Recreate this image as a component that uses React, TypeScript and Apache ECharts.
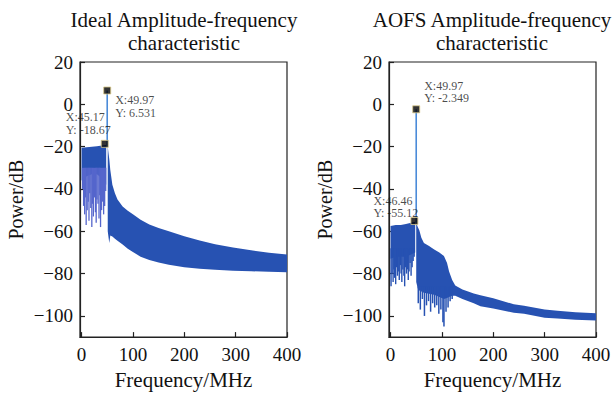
import React, { useEffect, useRef } from "react";
import * as echarts from "echarts";

const FONT = '"Liberation Serif", "Times New Roman", serif';

// ---------- Titles / axes ----------
const titles = ["Ideal Amplitude-frequency\ncharacteristic", "AOFS Amplitude-frequency\ncharacteristic"];
const xTicks = [0, 100, 200, 300, 400];
const yTicks = [-100, -80, -60, -40, -20, 0, 20];

// ---------- Left (Ideal) ----------
const leftNoiseFreq = [0, 10, 20, 30, 40, 48];
const leftNoiseUpper = [-20.5, -20.3, -20, -19.8, -19.5, -19.2];
const leftNoiseLower = [-36, -34, -33, -33, -35, -38];
const leftSpikeX = [2, 4, 6, 7.5, 9, 11, 13, 14.5, 16, 18, 20, 21.5, 23, 25, 27, 28.5, 30, 32, 34, 35.5, 37, 39, 41, 43, 45, 47];
const leftSpikeLow = [-40, -48, -52, -44, -57, -50, -46, -55, -42, -49, -58, -47, -53, -44, -51, -56, -45, -47, -54, -43, -58, -50, -46, -52, -48, -41];
const leftDecayFreq = [51, 54, 56, 60, 65, 70, 80, 90, 100, 115, 132, 150, 170, 200, 230, 260, 295, 330, 365, 400];
const leftDecayUpper = [-20, -26, -31, -38, -42, -45, -48.3, -50.3, -52, -54.5, -56.8, -58.5, -60, -62.3, -64.3, -66.1, -67.7, -69, -70.1, -71];
const leftDecayLower = [-60, -65.5, -62, -62.5, -63.5, -64.5, -66.3, -68.2, -69.8, -72, -73.6, -74.8, -75.8, -77, -77.7, -78.2, -78.6, -78.9, -79.1, -79.3];
const leftPeak = [49.97, -20, 6.531];
const leftMarkers = [
  [45.17, -18.67],
  [49.97, 6.531],
];

// ---------- Right (AOFS) ----------
const rightNoiseFreq = [0, 10, 20, 30, 40, 48];
const rightNoiseUpper = [-57.5, -57, -57, -56.5, -56, -55.5];
const rightNoiseLower = [-73, -72, -72, -72, -71, -70];
const rightSpikeX = [1, 3, 5, 6.5, 8, 10, 12, 13.5, 15, 17, 19, 20.5, 22, 24, 26, 27.5, 29, 31, 33, 34.5, 36, 38, 40, 42, 44, 46];
const rightSpikeLow = [-86, -80, -84, -78, -82, -85, -77, -81, -79, -83, -76, -80, -84, -78, -81, -86, -77, -80, -78, -83, -79, -75, -81, -77, -74, -72];
const rightDecayFreq = [50, 53, 56, 60, 65, 75, 85, 95, 104, 110, 114, 120, 126, 140, 162, 175, 200, 240, 260, 300, 325, 360, 400];
const rightDecayUpper = [-56, -58, -59.5, -63, -65.5, -67, -68.6, -70, -71.7, -75, -79, -83, -85.6, -87.5, -89.4, -90.2, -91.7, -94.5, -95.2, -97, -97.5, -98.2, -98.7];
const rightDecayLower = [-84, -87, -88, -88.5, -89, -89.5, -90, -91, -92, -91.5, -91, -90.5, -90.5, -92, -94, -95.4, -96.5, -98.5, -99, -100.8, -101.2, -101.8, -102.2];
const rightSpike2X = [54, 58, 62, 66, 70, 74, 78, 82, 86, 90, 94, 98, 102, 104, 108, 112, 116, 120];
const rightSpike2Low = [-94, -97, -92, -100, -95, -93, -98, -94, -96, -95, -99, -97, -103, -105, -98, -96, -93, -92];
const rightPeak = [49.97, -56, -2.349];
const rightMarkers = [
  [46.46, -55.12],
  [49.97, -2.349],
];

const BAND = "#2752b2";

function band(freq: number[], upper: number[], lower: number[], idx: number) {
  return {
    type: "custom",
    xAxisIndex: idx,
    yAxisIndex: idx,
    coordinateSystem: "cartesian2d",
    silent: true,
    z: 2,
    data: [[freq[0], upper[0]]],
    renderItem: (_p: any, api: any) => {
      const pts: number[][] = [];
      for (let i = 0; i < freq.length; i++) pts.push(api.coord([freq[i], upper[i]]));
      for (let i = freq.length - 1; i >= 0; i--) pts.push(api.coord([freq[i], lower[i]]));
      return { type: "polygon", shape: { points: pts }, style: { fill: BAND } };
    },
  };
}

function spikes(xs: number[], lows: number[], top: number, idx: number, color: string, w: number) {
  return {
    type: "custom",
    xAxisIndex: idx,
    yAxisIndex: idx,
    coordinateSystem: "cartesian2d",
    silent: true,
    z: 3,
    data: xs.map((x, i) => [x, lows[i], top]),
    renderItem: (_p: any, api: any) => {
      const a = api.coord([api.value(0), api.value(2)]);
      const b = api.coord([api.value(0), api.value(1)]);
      return {
        type: "line",
        shape: { x1: a[0], y1: a[1], x2: b[0], y2: b[1] },
        style: { stroke: color, lineWidth: w },
      };
    },
  };
}

function peak(p: number[], idx: number) {
  return {
    type: "line",
    xAxisIndex: idx,
    yAxisIndex: idx,
    symbol: "none",
    silent: true,
    z: 4,
    data: [
      [p[0], p[1]],
      [p[0], p[2]],
    ],
    lineStyle: { color: "#4b8bd9", width: 1.6 },
  };
}

function markers(pts: number[][], offsets: number[][], lineHeights: number[], idx: number) {
  return {
    type: "scatter",
    xAxisIndex: idx,
    yAxisIndex: idx,
    symbol: "rect",
    symbolSize: 7,
    silent: true,
    z: 6,
    itemStyle: { color: "#000", borderColor: "#d9c98a", borderWidth: 1 },
    data: pts.map((p, i) => ({
      value: p,
      label: {
        show: true,
        position: offsets[i],
        align: "left",
        verticalAlign: "top",
        formatter: `X:${p[0]}\nY: ${p[1]}`,
        fontFamily: FONT,
        fontSize: 12,
        lineHeight: lineHeights[i],
        color: "#1a1a1a",
      },
    })),
  };
}

const minusFmt = (v: number) => (v < 0 ? "\u2212" + Math.abs(v) : String(v));

function xAxis(idx: number) {
  return {
    type: "value",
    gridIndex: idx,
    min: -3,
    max: 400,
    name: "Frequency/MHz",
    nameLocation: "middle",
    nameGap: 28,
    nameTextStyle: { fontFamily: FONT, fontSize: 21, color: "#111" },
    axisLine: { show: true, onZero: false, lineStyle: { color: "#222", width: 1.2 } },
    axisTick: { show: true, inside: true, length: 5, customValues: xTicks, lineStyle: { color: "#222", width: 1.2 } },
    axisLabel: { customValues: xTicks, margin: 8, fontFamily: FONT, fontSize: 19, color: "#111" },
    splitLine: { show: false },
  };
}

function yAxis(idx: number) {
  return {
    type: "value",
    gridIndex: idx,
    min: -110,
    max: 20,
    name: "Power/dB",
    nameLocation: "middle",
    nameGap: 54,
    nameTextStyle: { fontFamily: FONT, fontSize: 20, color: "#111" },
    axisLine: { show: true, onZero: false, lineStyle: { color: "#222", width: 1.2 } },
    axisTick: { show: true, inside: true, length: 5, customValues: yTicks, lineStyle: { color: "#222", width: 1.2 } },
    axisLabel: { customValues: yTicks, margin: 7, fontFamily: FONT, fontSize: 19, color: "#111", formatter: minusFmt },
    splitLine: { show: false },
  };
}

function titleText(text: string, x: number) {
  return {
    type: "text",
    x,
    y: 8,
    silent: true,
    style: {
      text,
      fontFamily: FONT,
      fontSize: 21,
      lineHeight: 23,
      fill: "#111",
      textAlign: "center",
      textVerticalAlign: "top",
    },
  };
}

export default function App() {
  const ref = useRef<HTMLDivElement>(null);
  useEffect(() => {
    if (!ref.current) return;
    const chart = echarts.init(ref.current, null, { renderer: "svg" });
    chart.setOption({
      animation: false,
      backgroundColor: "#fff",
      graphic: [titleText(titles[0], 184), titleText(titles[1], 492)],
      grid: [
        { left: 80, top: 62, width: 207, height: 281, show: true, borderColor: "#222", borderWidth: 1.2, backgroundColor: "transparent" },
        { left: 389, top: 62, width: 207, height: 281, show: true, borderColor: "#222", borderWidth: 1.2, backgroundColor: "transparent" },
      ],
      xAxis: [xAxis(0), xAxis(1)],
      yAxis: [yAxis(0), yAxis(1)],
      series: [
        band(leftNoiseFreq, leftNoiseUpper, leftNoiseLower, 0),
        band(leftDecayFreq, leftDecayUpper, leftDecayLower, 0),
        spikes(leftSpikeX, leftSpikeLow, -30, 0, "#5566cc", 1.3),
        peak(leftPeak, 0),
        markers(leftMarkers, [[-35, -30], [12, 7]], [13.5, 13], 0),
        band(rightNoiseFreq, rightNoiseUpper, rightNoiseLower, 1),
        band(rightDecayFreq, rightDecayUpper, rightDecayLower, 1),
        spikes(rightSpikeX, rightSpikeLow, -68, 1, BAND, 1.4),
        spikes(rightSpike2X, rightSpike2Low, -86, 1, BAND, 1.5),
        peak(rightPeak, 1),
        markers(rightMarkers, [[-37, -22], [12, -25]], [12, 12], 1),
      ],
    });
    return () => chart.dispose();
  }, []);
  return <div ref={ref} style={{ position: "fixed", left: 0, top: 0, width: 614, height: 395 }} />;
}
